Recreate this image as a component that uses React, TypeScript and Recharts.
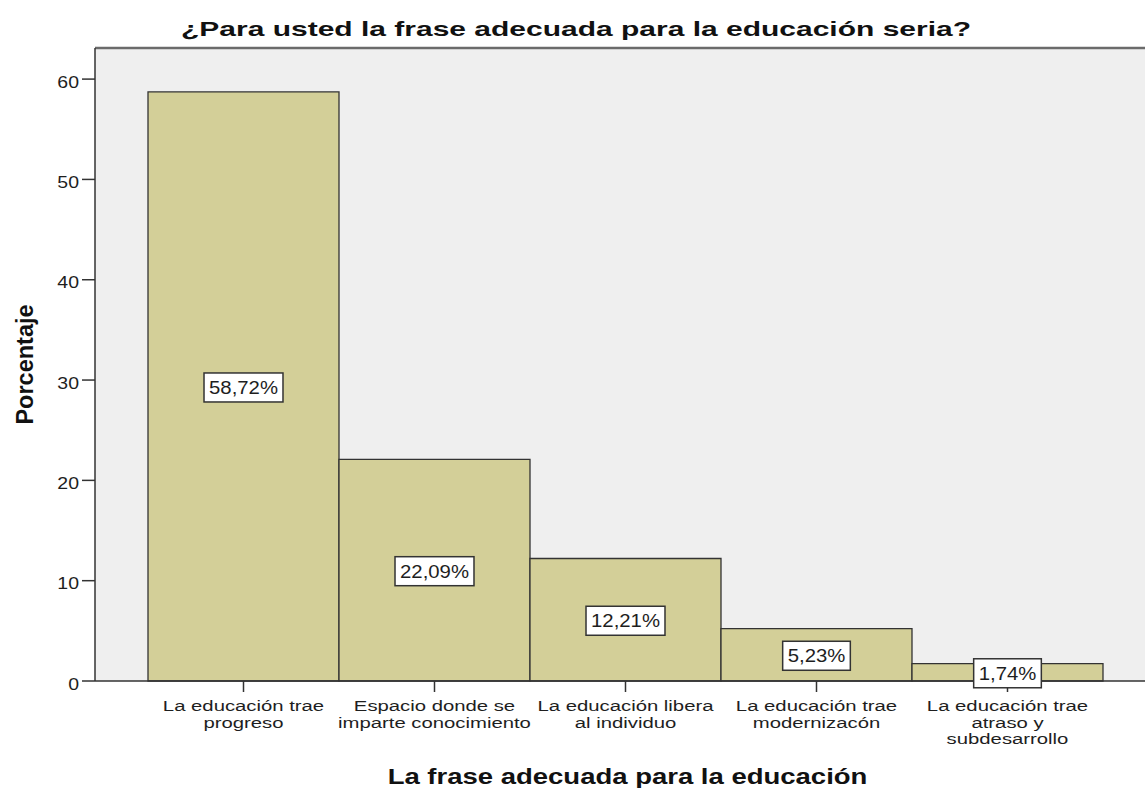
import React from 'react';
import { BarChart, Bar, XAxis, YAxis, CartesianGrid, ReferenceLine, LabelList } from 'recharts';

const categories = [
  'La educación trae\nprogreso',
  'Espacio donde se\nimparte conocimiento',
  'La educación libera\nal individuo',
  'La educación trae\nmodernizacón',
  'La educación trae\natraso y\nsubdesarrollo',
];
const percentages = [58.72, 22.09, 12.21, 5.23, 1.74];
const yTicks = [0, 10, 20, 30, 40, 50, 60];
const Y_MAX = 63.1;
const chartTitle = '¿Para usted la frase adecuada para la educación seria?';
const xTitle = 'La frase adecuada para la educación';
const yTitle = 'Porcentaje';

const data = categories.map((c, i) => ({ name: c, value: percentages[i] }));

const FONT = '"Liberation Sans", Arial, Helvetica, sans-serif';
const TEXT = '#1e1e1e';
const BAR_FILL = '#d3cf98';
const DARK = '#333333';

const charW = (ch: string) => (ch === ',' || ch === '.' ? 0.278 : ch === '%' ? 0.889 : 0.556);

const XTick = (props: any) => {
  const { x, y, payload } = props;
  const lines = String(payload.value).split('\n');
  return (
    <g>
      {lines.map((ln: string, i: number) => (
        <text
          key={i}
          transform={`translate(${x},${y + 16.7 + i * 16.8}) scale(1.31,1)`}
          textAnchor="middle"
          fontSize={15.5}
          fill={TEXT}
          fontFamily={FONT}
        >
          {ln}
        </text>
      ))}
    </g>
  );
};

const YTick = (props: any) => {
  const { x, y, payload } = props;
  return (
    <text
      transform={`translate(${x},${y + 8.5}) scale(1.18,1)`}
      textAnchor="end"
      fontSize={16.5}
      fill={TEXT}
      fontFamily={FONT}
    >
      {payload.value}
    </text>
  );
};

const BarValueLabel = (props: any) => {
  const { x, y, width, height, value } = props;
  const text = Number(value).toFixed(2).replace('.', ',') + '%';
  const fs = 18;
  const sx = 1.13;
  const tw = text.split('').reduce((s, ch) => s + charW(ch), 0) * fs * sx;
  const cx = x + width / 2;
  const cy = y + height / 2 + 1;
  const bw = tw + 10;
  const bh = 29;
  return (
    <g>
      <rect x={cx - bw / 2} y={cy - bh / 2} width={bw} height={bh} fill="#ffffff" stroke={DARK} strokeWidth={1.5} />
      <text
        transform={`translate(${cx},${cy + 6.5}) scale(${sx},1)`}
        textAnchor="middle"
        fontSize={fs}
        fill={TEXT}
        fontFamily={FONT}
      >
        {text}
      </text>
    </g>
  );
};

const XTitle = (props: any) => {
  const vb = props.viewBox || { x: 95, y: 681, width: 1065, height: 107 };
  const cx = vb.x + vb.width / 2;
  const by = vb.y + 103;
  return (
    <text
      transform={`translate(${cx},${by}) scale(1.25,1)`}
      textAnchor="middle"
      fontSize={22}
      fontWeight="bold"
      fill="#111"
      fontFamily={FONT}
    >
      {xTitle}
    </text>
  );
};

const YTitle = (props: any) => {
  const vb = props.viewBox || { x: 0, y: 48, width: 95, height: 633 };
  const bx = vb.x + 33;
  const cy = vb.y + vb.height / 2;
  return (
    <text
      transform={`translate(${bx},${cy}) rotate(-90)`}
      textAnchor="middle"
      fontSize={23.5}
      fontWeight="bold"
      fill="#111"
      fontFamily={FONT}
    >
      {yTitle}
    </text>
  );
};

export default function App() {
  return (
    <div
      style={{
        position: 'absolute',
        left: 0,
        top: 0,
        width: 1145,
        height: 788,
        overflow: 'hidden',
        background: '#ffffff',
      }}
    >
      <BarChart
        width={1160}
        height={788}
        data={data}
        margin={{ top: 48, right: 0, bottom: 0, left: 0 }}
        barCategoryGap={0}
        barGap={0}
      >
        <CartesianGrid horizontal={false} vertical={false} fill="#efefef" />
        <XAxis
          dataKey="name"
          interval={0}
          height={107}
          tickSize={11}
          padding={{ left: 53, right: 57 }}
          axisLine={{ stroke: DARK, strokeWidth: 1.5 }}
          tickLine={{ stroke: DARK, strokeWidth: 1.5 }}
          tick={<XTick />}
          label={XTitle}
        />
        <YAxis
          type="number"
          domain={[0, Y_MAX]}
          ticks={yTicks}
          width={95}
          tickSize={13}
          tickMargin={3}
          axisLine={{ stroke: DARK, strokeWidth: 1.5 }}
          tickLine={{ stroke: DARK, strokeWidth: 1.5 }}
          tick={<YTick />}
          label={YTitle}
        />
        <ReferenceLine y={Y_MAX} stroke="#6b6b6b" strokeWidth={2.5} />
        <Bar dataKey="value" fill={BAR_FILL} stroke={DARK} strokeWidth={1.3} isAnimationActive={false}>
          <LabelList dataKey="value" content={BarValueLabel} />
        </Bar>
      </BarChart>
      <svg style={{ position: 'absolute', left: 0, top: 0 }} width={1145} height={46}>
        <text
          transform="translate(576,36) scale(1.5,1)"
          textAnchor="middle"
          fontSize={20}
          fontWeight="bold"
          fill="#111"
          fontFamily={FONT}
        >
          {chartTitle}
        </text>
      </svg>
    </div>
  );
}
